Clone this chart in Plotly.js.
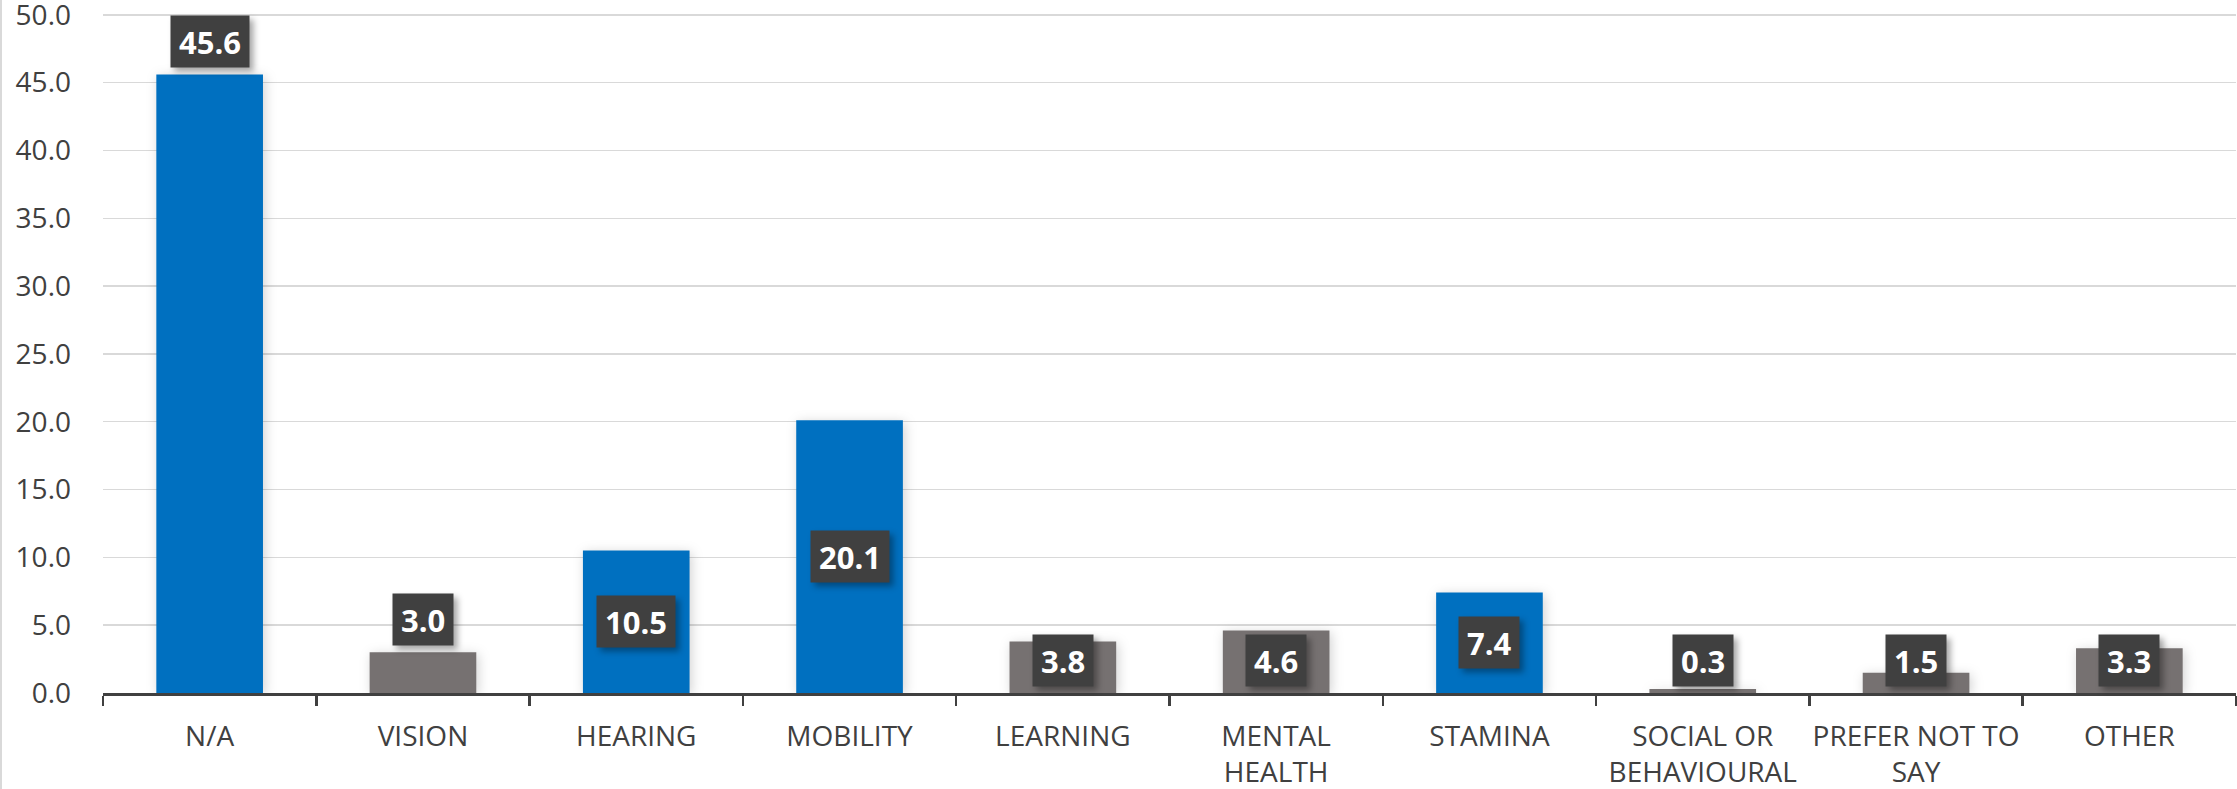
<!DOCTYPE html>
<html>
<head>
<meta charset="utf-8">
<script src="https://cdn.plot.ly/plotly-3.0.1.min.js"></script>
<style>
html,body{margin:0;padding:0;background:#fff;}
#chart{width:2237px;height:789px;}
#chart .annotation rect.bg{filter:drop-shadow(4px 4px 3px rgba(0,0,0,0.35));}
#chart .bars .point path{filter:drop-shadow(2px 2px 6px rgba(0,0,0,0.18));}
</style>
</head>
<body>
<div id="chart"></div>
<script>
// Data
const categories = ["N/A", "VISION", "HEARING", "MOBILITY", "LEARNING", "MENTAL<br>HEALTH", "STAMINA", "SOCIAL OR<br>BEHAVIOURAL", "PREFER NOT TO<br>SAY", "OTHER"];
const values = [45.6, 3.0, 10.5, 20.1, 3.8, 4.6, 7.4, 0.3, 1.5, 3.3];
const highlight = [true, false, true, true, false, false, true, false, false, false];
const labelPos = ["outside", "outside", "center", "center", "center", "center", "center", "center", "center", "center"];
const yTicks = [0, 5, 10, 15, 20, 25, 30, 35, 40, 45, 50];

const BLUE = "#0070C0", GRAY = "#767171";
const colors = highlight.map(h => h ? BLUE : GRAY);

const trace = {
  type: "bar",
  x: categories,
  y: values,
  marker: {color: colors, line: {width: 0}},
  hoverinfo: "skip"
};

const NB = "\u00A0";
const annotations = values.map((v, i) => {
  const outside = labelPos[i] === "outside";
  return {
    x: categories[i], y: outside ? v : Math.max(v / 2, 2.43), xref: "x", yref: "y",
    showarrow: false,
    yanchor: outside ? "bottom" : "middle",
    xanchor: "center",
    yshift: outside ? 6 : 0,
    borderpad: 0,
    height: 51,
    valign: "middle",
    bgcolor: "#404040",
    font: {family: "Open Sans, Arial, sans-serif", size: 31, weight: 700, color: "#FFFFFF"},
    text: NB + v.toFixed(1) + NB
  };
});

const layout = {
  width: 2237, height: 789,
  margin: {l: 103, r: 1, t: 8, b: 96},
  paper_bgcolor: "#FFFFFF",
  plot_bgcolor: "#FFFFFF",
  showlegend: false,
  bargap: 0.5,
  font: {family: "Open Sans, Arial, sans-serif", color: "#404040"},
  xaxis: {
    type: "category",
    tickson: "boundaries",
    ticks: "outside",
    ticklen: 10,
    tickwidth: 2.5,
    tickcolor: "#404040",
    showline: true,
    linecolor: "#404040",
    linewidth: 3,
    showgrid: false,
    tickangle: 0,
    ticklabelstandoff: 16,
    ticklabeloverflow: "allow",
    tickfont: {size: 28, color: "#404040"},
    automargin: false
  },
  yaxis: {
    range: [0, 50.5],
    tickvals: yTicks,
    ticktext: yTicks.map(t => t.toFixed(1)),
    showgrid: true,
    gridcolor: "#D9D9D9",
    gridwidth: 1.5,
    zeroline: false,
    showline: false,
    ticks: "",
    ticklabelstandoff: 31,
    ticklabeloverflow: "allow",
    tickfont: {size: 28, color: "#404040"},
    automargin: false
  },
  annotations: annotations,
  shapes: [{type: "line", xref: "paper", yref: "paper", x0: -102/2133, x1: -102/2133, y0: -1, y1: 2, line: {color: "#D9D9D9", width: 2}}]
};

Plotly.newPlot("chart", [trace], layout, {displayModeBar: false, staticPlot: true});
</script>
</body>
</html>
